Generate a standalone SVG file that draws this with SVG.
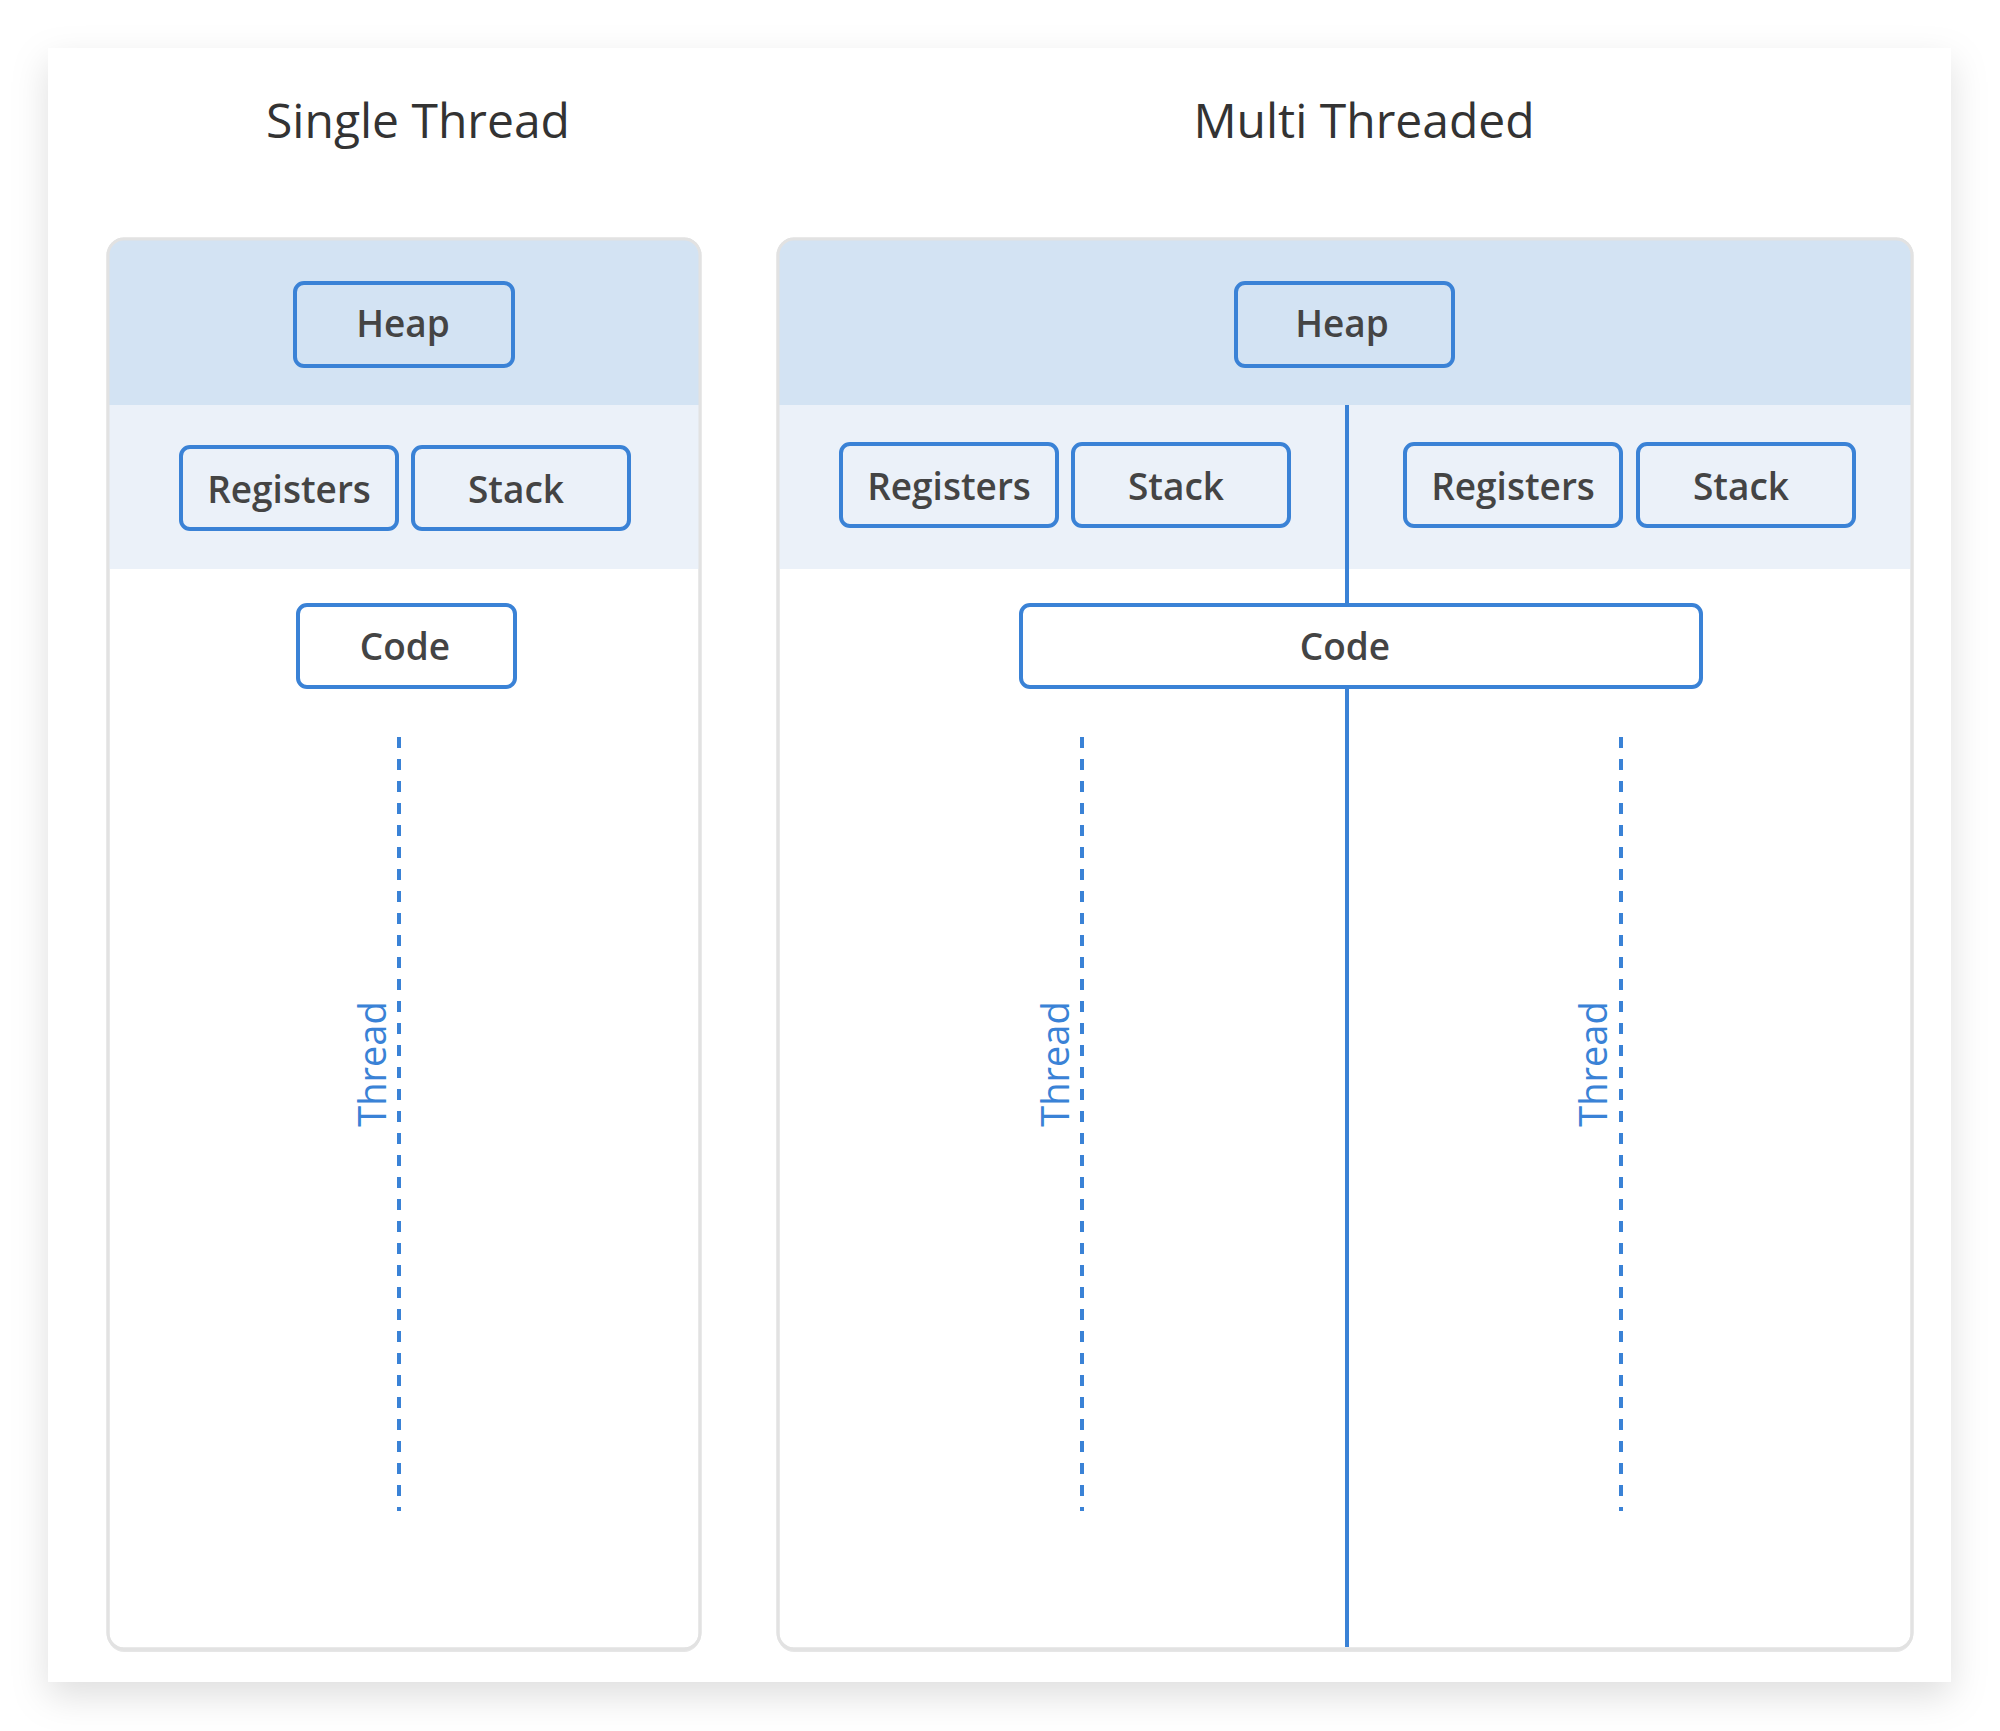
<svg xmlns="http://www.w3.org/2000/svg" width="2000" height="1731" viewBox="0 0 2000 1731">
  <defs>
    <filter id="cardShadow" x="-10%" y="-10%" width="120%" height="125%">
      <feDropShadow dx="0" dy="14" stdDeviation="18" flood-color="#000" flood-opacity="0.13"/>
    </filter>
    <clipPath id="clipLeft"><rect x="108" y="239" width="592" height="1410" rx="16"/></clipPath>
    <clipPath id="clipRight"><rect x="778" y="239" width="1134" height="1410" rx="16"/></clipPath>
    <style>
      .title { font-family: "Open Sans", "Liberation Sans", sans-serif; font-size: 48px; fill: #333; text-anchor: middle; }
      .panel { fill: #ffffff; stroke: #e2e2e2; stroke-width: 3; }
      .band1 { fill: #d3e3f3; }
      .band2 { fill: #ebf1f9; }
      .box { fill: none; stroke: #3a82d6; stroke-width: 4; }
      .boxw { fill: #ffffff; stroke: #3a82d6; stroke-width: 4; }
      .lbl { font-family: "Open Sans", "Liberation Sans", sans-serif; font-size: 37px; font-weight: 600; fill: #444; text-anchor: middle; dominant-baseline: central; }
      .thr { font-family: "Open Sans", "Liberation Sans", sans-serif; font-size: 38px; fill: #3a82d6; text-anchor: middle; }
      .dash { stroke: #3a82d6; stroke-width: 4; stroke-dasharray: 11 11; fill: none; }
      .solid { stroke: #3a82d6; stroke-width: 4; fill: none; }
    </style>
  </defs>

  <rect x="0" y="0" width="2000" height="1731" fill="#ffffff"/>
  <rect x="48" y="48" width="1903" height="1634" fill="#ffffff" filter="url(#cardShadow)"/>

  <text class="title" x="418" y="138">Single Thread</text>
  <text class="title" x="1364" y="138">Multi Threaded</text>

  <!-- Left panel -->
  <g id="panel-single">
    <rect x="108" y="242" width="592" height="1410" rx="16" fill="#e6e6e6"/>
    <rect class="panel" x="108" y="239" width="592" height="1410" rx="16"/>
    <g clip-path="url(#clipLeft)">
      <rect class="band1" x="108" y="239" width="592" height="166"/>
      <rect class="band2" x="108" y="405" width="592" height="164"/>
    </g>
    <rect x="108" y="239" width="592" height="1410" rx="16" fill="none" stroke="#e2e2e2" stroke-width="3"/>
  </g>

  <!-- Right panel -->
  <g id="panel-multi">
    <rect x="778" y="242" width="1134" height="1410" rx="16" fill="#e6e6e6"/>
    <rect class="panel" x="778" y="239" width="1134" height="1410" rx="16"/>
    <g clip-path="url(#clipRight)">
      <rect class="band1" x="778" y="239" width="1134" height="166"/>
      <rect class="band2" x="778" y="405" width="1134" height="164"/>
    </g>
    <rect x="778" y="239" width="1134" height="1410" rx="16" fill="none" stroke="#e2e2e2" stroke-width="3"/>
  </g>

  <!-- Connectors -->
  <g id="connectors">
    <line class="solid" x1="1347" y1="405" x2="1347" y2="1647"/>
    <line class="dash" x1="399" y1="737" x2="399" y2="1511"/>
    <line class="dash" x1="1082" y1="737" x2="1082" y2="1511"/>
    <line class="dash" x1="1621" y1="737" x2="1621" y2="1511"/>
  </g>

  <!-- Single thread nodes -->
  <g id="s-heap">
    <rect class="box" x="295" y="283" width="218" height="83" rx="9"/>
    <text class="lbl" x="403" y="322">Heap</text>
  </g>
  <g id="s-registers">
    <rect class="box" x="181" y="447" width="216" height="82" rx="9"/>
    <text class="lbl" x="289" y="488">Registers</text>
  </g>
  <g id="s-stack">
    <rect class="box" x="413" y="447" width="216" height="82" rx="9"/>
    <text class="lbl" x="516" y="488">Stack</text>
  </g>
  <g id="s-code">
    <rect class="boxw" x="298" y="605" width="217" height="82" rx="9"/>
    <text class="lbl" x="405" y="645">Code</text>
  </g>
  <g id="s-thread">
    <text class="thr" transform="translate(386,1064) rotate(-90)">Thread</text>
  </g>

  <!-- Multi threaded nodes -->
  <g id="m-heap">
    <rect class="box" x="1236" y="283" width="217" height="83" rx="9"/>
    <text class="lbl" x="1342" y="322">Heap</text>
  </g>
  <g id="m-registers-1">
    <rect class="box" x="841" y="444" width="216" height="82" rx="9"/>
    <text class="lbl" x="949" y="485">Registers</text>
  </g>
  <g id="m-stack-1">
    <rect class="box" x="1073" y="444" width="216" height="82" rx="9"/>
    <text class="lbl" x="1176" y="485">Stack</text>
  </g>
  <g id="m-registers-2">
    <rect class="box" x="1405" y="444" width="216" height="82" rx="9"/>
    <text class="lbl" x="1513" y="485">Registers</text>
  </g>
  <g id="m-stack-2">
    <rect class="box" x="1638" y="444" width="216" height="82" rx="9"/>
    <text class="lbl" x="1741" y="485">Stack</text>
  </g>
  <g id="m-code">
    <rect class="boxw" x="1021" y="605" width="680" height="82" rx="9"/>
    <text class="lbl" x="1345" y="645">Code</text>
  </g>
  <g id="m-thread-1">
    <text class="thr" transform="translate(1069,1064) rotate(-90)">Thread</text>
  </g>
  <g id="m-thread-2">
    <text class="thr" transform="translate(1607,1064) rotate(-90)">Thread</text>
  </g>
</svg>
